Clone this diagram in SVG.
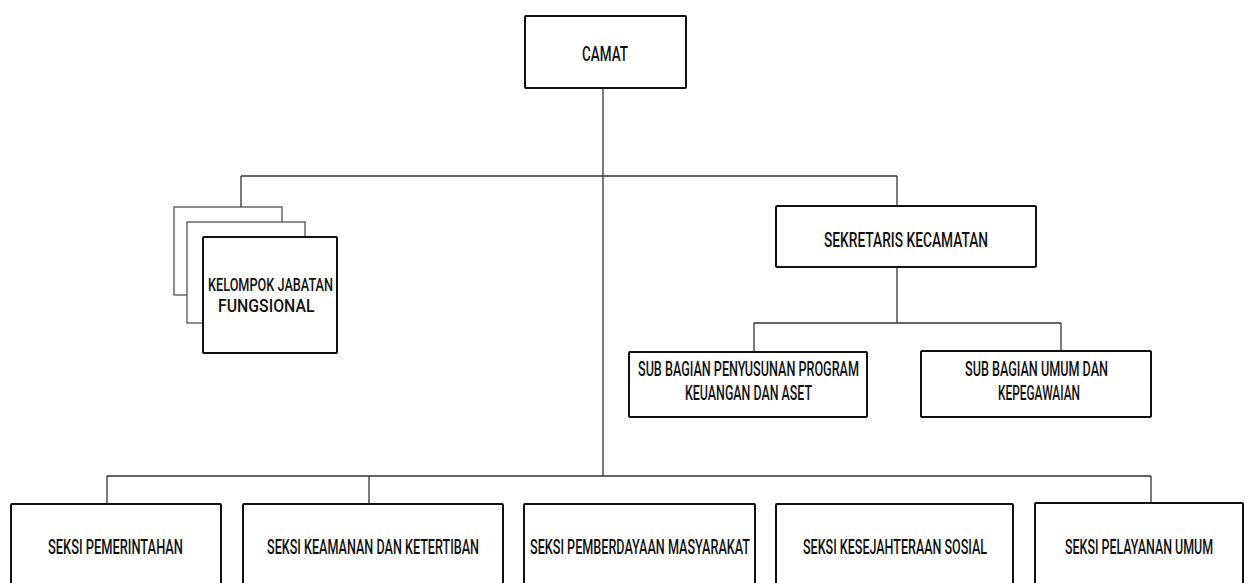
<svg xmlns="http://www.w3.org/2000/svg" width="1245" height="583" viewBox="0 0 1245 583">
<style>
.box{fill:#fff;stroke:#111;stroke-width:2}
.back{fill:#fff;stroke:#444;stroke-width:1.2}
.ln{fill:none;stroke:#333;stroke-width:1.3}
text{font-family:Roboto,"Liberation Sans",sans-serif;font-size:20px;font-weight:500;fill:#111;}
.sm{font-size:18px}
</style>
<rect width="1245" height="583" fill="#fff"/>
<g id="connectors">
<path class="ln" d="M603 88V476"/>
<path class="ln" d="M241 176H897M241 176V207M897 176V206"/>
<path class="ln" d="M897 267V323M754 323H1061M754 323V352M1061 323V351"/>
<path class="ln" d="M107 476H1151M107 476V504M369 476V504M1151 476V503"/>
</g>
<g id="camat"><rect class="box" x="525" y="16" width="161" height="72" rx="1"/><text transform="translate(582 61) scale(0.72 1)" textLength="63.9" lengthAdjust="spacingAndGlyphs">CAMAT</text></g>
<g id="fungsional">
<rect class="back" x="174" y="207" width="108" height="88"/>
<rect class="back" x="187" y="222" width="118" height="101"/>
<rect class="box" x="203" y="237" width="134" height="116" rx="1"/>
<text class="sm" transform="translate(208 291) scale(0.72 1)" textLength="173.6" lengthAdjust="spacingAndGlyphs">KELOMPOK JABATAN</text>
<text class="sm" transform="translate(218 312) scale(0.72 1)" textLength="134" lengthAdjust="spacingAndGlyphs">FUNGSIONAL</text>
</g>
<g id="sekretaris"><rect class="box" x="776" y="206" width="260" height="61" rx="1"/><text transform="translate(824 247) scale(0.72 1)" textLength="227.8" lengthAdjust="spacingAndGlyphs">SEKRETARIS KECAMATAN</text></g>
<g id="subbag-program"><rect class="box" x="629" y="352" width="238" height="65" rx="1"/>
<text transform="translate(638 376) scale(0.72 1)" textLength="306.9" lengthAdjust="spacingAndGlyphs">SUB BAGIAN PENYUSUNAN PROGRAM</text>
<text transform="translate(685 400) scale(0.72 1)" textLength="176.4" lengthAdjust="spacingAndGlyphs">KEUANGAN DAN ASET</text></g>
<g id="subbag-umum"><rect class="box" x="921" y="351" width="230" height="66" rx="1"/>
<text transform="translate(965 376) scale(0.72 1)" textLength="198.6" lengthAdjust="spacingAndGlyphs">SUB BAGIAN UMUM DAN</text>
<text transform="translate(998 400) scale(0.72 1)" textLength="113.9" lengthAdjust="spacingAndGlyphs">KEPEGAWAIAN</text></g>
<g id="seksi-pemerintahan"><rect class="box" x="11" y="504" width="210" height="95" rx="1"/><text transform="translate(48 554) scale(0.72 1)" textLength="187.5" lengthAdjust="spacingAndGlyphs">SEKSI PEMERINTAHAN</text></g>
<g id="seksi-keamanan"><rect class="box" x="243" y="504" width="260" height="95" rx="1"/><text transform="translate(267 554) scale(0.72 1)" textLength="294.4" lengthAdjust="spacingAndGlyphs">SEKSI KEAMANAN DAN KETERTIBAN</text></g>
<g id="seksi-pemberdayaan"><rect class="box" x="524" y="504" width="231" height="95" rx="1"/><text transform="translate(530 554) scale(0.72 1)" textLength="305.6" lengthAdjust="spacingAndGlyphs">SEKSI PEMBERDAYAAN MASYARAKAT</text></g>
<g id="seksi-kesejahteraan"><rect class="box" x="776" y="504" width="237" height="95" rx="1"/><text transform="translate(803 554) scale(0.72 1)" textLength="255.6" lengthAdjust="spacingAndGlyphs">SEKSI KESEJAHTERAAN SOSIAL</text></g>
<g id="seksi-pelayanan"><rect class="box" x="1035" y="503" width="208" height="96" rx="1"/><text transform="translate(1065 554) scale(0.72 1)" textLength="205.6" lengthAdjust="spacingAndGlyphs">SEKSI PELAYANAN UMUM</text></g>
</svg>
